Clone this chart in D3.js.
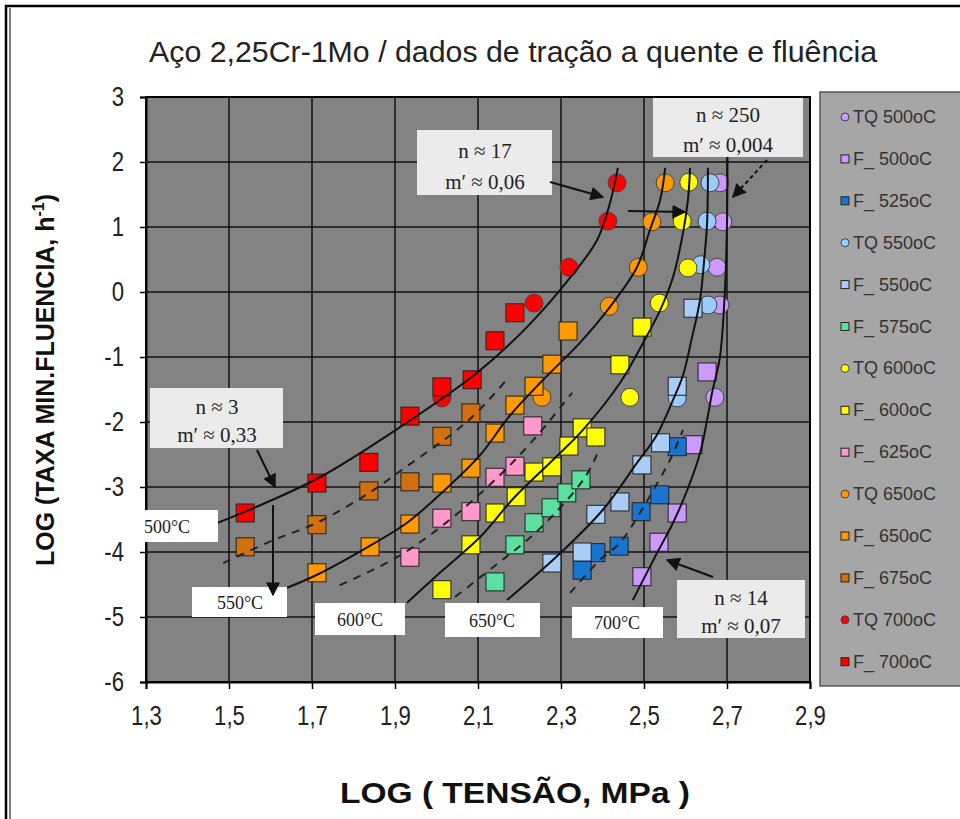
<!DOCTYPE html>
<html><head><meta charset="utf-8">
<script src="https://cdn.jsdelivr.net/npm/d3@7"></script>
<style>body{margin:0;background:#fff}</style>
</head><body>
<script>
// ---------- data (log stress, log min. creep rate) ----------
const seriesNames = ["TQ 500oC","F_ 500oC","F_ 525oC","TQ 550oC","F_ 550oC","F_ 575oC","TQ 600oC",
                     "F_ 600oC","F_ 625oC","TQ 650oC","F_ 650oC","F_ 675oC","TQ 700oC","F_ 700oC"];
const seriesShapes = ["circle","square","square","circle","square","square","circle",
                      "square","square","circle","square","square","circle","square"];
const seriesColors = ["#CC99FF","#CC99FF","#1874CD","#99CCFF","#A9CDF5","#5CE0A0","#FFFF00",
                      "#FFFF00","#FF99CC","#FF9900","#FF9900","#D0700E","#FF0000","#FF0000"];

const tq500 = [[2.683,1.68],[2.690,1.08],[2.676,0.38],[2.683,-0.20],[2.671,-1.62]];
const f500  = [[2.652,-1.23],[2.618,-2.35],[2.580,-3.40],[2.536,-3.85],[2.495,-4.38]];
const f525  = [[2.580,-2.38],[2.538,-3.12],[2.493,-3.38],[2.440,-3.91],[2.384,-4.01],[2.351,-4.28]];
const tq550 = [[2.659,1.68],[2.652,1.09],[2.637,0.42],[2.654,-0.20],[2.580,-1.63]];
const f550  = [[2.278,-4.17],[2.351,-4.00],[2.384,-3.42],[2.442,-3.23],[2.495,-2.66],[2.540,-2.32],[2.580,-1.45],[2.618,-0.25]];
const f575  = [[2.141,-4.46],[2.189,-3.89],[2.235,-3.55],[2.276,-3.32],[2.314,-3.09],[2.348,-2.89]];
const tq600 = [[2.608,1.69],[2.592,1.09],[2.606,0.37],[2.537,-0.17],[2.466,-1.62]];
const f600  = [[2.013,-4.58],[2.083,-3.89],[2.141,-3.40],[2.192,-3.15],[2.235,-2.77],[2.278,-2.69],
               [2.319,-2.37],[2.351,-2.09],[2.384,-2.23],[2.442,-1.12],[2.495,-0.54]];
const f625  = [[1.936,-4.08],[2.013,-3.48],[2.083,-3.38],[2.141,-2.85],[2.189,-2.68],[2.232,-2.06]];
const tq650 = [[2.551,1.68],[2.519,1.08],[2.486,0.38],[2.416,-0.22],[2.254,-1.62]];
const f650  = [[1.712,-4.32],[1.840,-3.92],[1.936,-3.57],[2.013,-2.94],[2.083,-2.71],[2.141,-2.17],
               [2.189,-1.74],[2.235,-1.45],[2.278,-1.11],[2.317,-0.60]];
const f675  = [[1.539,-3.92],[1.712,-3.58],[1.837,-3.06],[1.936,-2.92],[2.013,-2.22],[2.083,-1.86]];
const tq700 = [[2.435,1.68],[2.413,1.09],[2.319,0.38],[2.235,-0.17],[2.013,-1.63]];
const f700  = [[1.539,-3.40],[1.712,-2.94],[1.837,-2.62],[1.936,-1.91],[2.013,-1.46],[2.086,-1.35],
               [2.141,-0.75],[2.189,-0.32]];
const seriesData = [tq500,f500,f525,tq550,f550,f575,tq600,f600,f625,tq650,f650,f675,tq700,f700];

// fitted trend curves
const curve500 = [[1.473,-3.55],[1.539,-3.38],[1.719,-2.85],[1.912,-2.08],[2.100,-1.23],[2.218,-0.54],[2.322,0.22],[2.387,0.80],[2.418,1.37],[2.437,1.91]];
const curve550 = [[1.640,-4.55],[1.712,-4.35],[1.835,-3.92],[1.929,-3.55],[2.033,-2.97],[2.105,-2.51],[2.177,-1.90],[2.257,-1.35],[2.346,-0.78],[2.418,-0.23],[2.483,0.38],[2.514,0.95],[2.539,1.42],[2.551,1.91]];
const curve600 = [[1.929,-4.78],[2.008,-4.32],[2.105,-3.77],[2.189,-3.15],[2.281,-2.58],[2.353,-2.12],[2.442,-1.40],[2.498,-0.78],[2.539,-0.28],[2.570,0.23],[2.594,0.91],[2.606,1.42],[2.611,1.91]];
const curve650 = [[2.170,-4.74],[2.298,-4.02],[2.401,-3.35],[2.483,-2.63],[2.531,-2.20],[2.570,-1.66],[2.594,-1.28],[2.616,-0.69],[2.635,-0.12],[2.645,0.49],[2.652,1.06],[2.654,1.91]];
const curve700 = [[2.473,-4.74],[2.531,-4.02],[2.570,-3.55],[2.604,-3.05],[2.635,-2.48],[2.652,-1.97],[2.664,-1.55],[2.683,-1.00],[2.695,0.03],[2.700,1.06],[2.701,2.09]];
const dash525 = [[1.486,-4.17],[1.606,-3.82],[1.712,-3.55],[1.833,-3.11],[1.929,-2.68],[2.040,-2.17],[2.098,-1.85],[2.165,-1.38]];
const dash575 = [[1.767,-4.51],[1.905,-4.08],[2.025,-3.54],[2.146,-2.86],[2.233,-2.28],[2.327,-1.55]];
const dash625 = [[2.045,-4.69],[2.153,-4.15],[2.218,-3.82],[2.286,-3.40],[2.358,-2.85],[2.394,-2.40]];
const dash675 = [[2.322,-4.63],[2.394,-4.12],[2.442,-3.86],[2.490,-3.40],[2.534,-2.92],[2.563,-2.58],[2.594,-2.12]];
const solidCurves = [curve500,curve550,curve600,curve650,curve700];
const dashedCurves = [dash525,dash575,dash625,dash675];

const xTicks = [1.3,1.5,1.7,1.9,2.1,2.3,2.5,2.7,2.9];
const yTicks = [3,2,1,0,-1,-2,-3,-4,-5,-6];

// ---------- layout ----------
const W = 960, H = 819;
const P = {l:146, r:810, t:97, b:682};
const svg = d3.select("body").append("svg").attr("width",W).attr("height",H);
const x = d3.scaleLinear().domain([1.3,2.9]).range([P.l,P.r]);
const y = d3.scaleLinear().domain([-6,3]).range([P.b,P.t]);
const sans = "Liberation Sans, Arial, sans-serif";

function condense(sel,k){
  sel.each(function(){
    const w = this.getComputedTextLength();
    this.setAttribute("textLength", w*k);
    this.setAttribute("lengthAdjust","spacingAndGlyphs");
  });
}

svg.append("rect").attr("width",W).attr("height",H).attr("fill","#fff");
// outer frame
svg.append("rect").attr("x",6).attr("y",6).attr("width",W+20).attr("height",H+20)
  .attr("fill","none").attr("stroke","#000").attr("stroke-width",2.5);
svg.append("line").attr("x1",10).attr("x2",10).attr("y1",8).attr("y2",H)
  .attr("stroke","#000").attr("stroke-width",1);

// title
svg.append("text").attr("x",513).attr("y",62).attr("text-anchor","middle")
  .attr("font-family",sans).attr("font-size",29).attr("fill","#222")
  .attr("textLength",728).attr("lengthAdjust","spacingAndGlyphs")
  .text("Aço 2,25Cr-1Mo / dados de tração a quente e fluência");

// plot area
svg.append("rect").attr("x",P.l).attr("y",P.t).attr("width",P.r-P.l).attr("height",P.b-P.t)
  .attr("fill","#838383");

// grid
const grid = svg.append("g").attr("stroke","#111").attr("stroke-width",1.5);
grid.selectAll("line.v").data(xTicks).join("line").attr("class","v")
  .attr("x1",d=>x(d)).attr("x2",d=>x(d)).attr("y1",P.t).attr("y2",P.b);
grid.selectAll("line.h").data(yTicks).join("line").attr("class","h")
  .attr("y1",d=>y(d)).attr("y2",d=>y(d)).attr("x1",P.l).attr("x2",P.r);

// axes
const fmt = d => (Math.round(d*10)/10).toString().replace(".",",");
const gx = svg.append("g").attr("transform",`translate(0,${P.b})`)
  .call(d3.axisBottom(x).tickValues(xTicks).tickFormat(fmt).tickSize(7).tickPadding(17));
const gy = svg.append("g").attr("transform",`translate(${P.l},0)`)
  .call(d3.axisLeft(y).tickValues(yTicks).tickFormat(d=>String(d)).tickSize(6).tickPadding(16));
[gx,gy].forEach(g=>{
  g.select(".domain").attr("stroke","#000").attr("stroke-width",2);
  g.selectAll(".tick line").attr("stroke","#000").attr("stroke-width",1.5);
  g.selectAll(".tick text").attr("font-family",sans)
    .attr("font-size",27).attr("fill","#222").call(condense,0.82);
});
svg.append("rect").attr("x",P.l).attr("y",P.t).attr("width",P.r-P.l).attr("height",P.b-P.t)
  .attr("fill","none").attr("stroke","#000").attr("stroke-width",2);

// axis titles
svg.append("text").attr("x",515).attr("y",803).attr("text-anchor","middle")
  .attr("font-family",sans).attr("font-weight","bold")
  .attr("font-size",30).attr("fill","#111").attr("textLength",350).attr("lengthAdjust","spacingAndGlyphs")
  .text("LOG ( TENSÃO, MPa  )");
const yt = svg.append("text").attr("transform","translate(54,380) rotate(-90)").attr("text-anchor","middle")
  .attr("font-family",sans).attr("font-weight","bold")
  .attr("font-size",25).attr("fill","#111").attr("textLength",372).attr("lengthAdjust","spacingAndGlyphs");
yt.append("tspan").text("LOG (TAXA MIN.FLUENCIA, h");
yt.append("tspan").attr("font-size",16).attr("dy",-10).text("-1");
yt.append("tspan").attr("dy",10).text(")");

// markers
const plot = svg.append("g");
seriesData.forEach((data,i)=>{
  const g = plot.append("g");
  if (seriesShapes[i]==="circle") {
    g.selectAll("circle").data(data).join("circle")
      .attr("cx",d=>x(d[0])).attr("cy",d=>y(d[1])).attr("r",9)
      .attr("fill",seriesColors[i]).attr("stroke","#444").attr("stroke-width",1);
  } else {
    const s = 18;
    g.selectAll("rect").data(data).join("rect")
      .attr("x",d=>x(d[0])-s/2).attr("y",d=>y(d[1])-s/2).attr("width",s).attr("height",s)
      .attr("fill",seriesColors[i]).attr("stroke","#222").attr("stroke-width",1);
  }
});

// trend curves
const line = d3.line().x(d=>x(d[0])).y(d=>y(d[1])).curve(d3.curveCatmullRom.alpha(0.5));
plot.selectAll("path.solid").data(solidCurves).join("path").attr("class","solid")
  .attr("d",line).attr("fill","none").attr("stroke","#111").attr("stroke-width",2);
plot.selectAll("path.dash").data(dashedCurves).join("path").attr("class","dash")
  .attr("d",line).attr("fill","none").attr("stroke","#222").attr("stroke-width",2)
  .attr("stroke-dasharray","8,7");

// arrowhead
svg.append("defs").append("marker").attr("id","ah").attr("viewBox","0 0 10 10")
  .attr("refX",9).attr("refY",5).attr("markerWidth",14).attr("markerHeight",14)
  .attr("markerUnits","userSpaceOnUse").attr("orient","auto")
  .append("path").attr("d","M0,0 L10,5 L0,10 z").attr("fill","#111");

// annotation boxes
const ann = svg.append("g");
const serif = "Liberation Serif, Times New Roman, serif";
function infoBox(bx,by,bw,bh,lines,fill,fs){
  ann.append("rect").attr("x",bx).attr("y",by).attr("width",bw).attr("height",bh).attr("fill",fill);
  lines.forEach(l=>{
    ann.append("text").attr("x",l[0]).attr("y",l[1]).attr("text-anchor","middle")
      .attr("font-family",serif).attr("font-size",fs).attr("fill","#222").text(l[2]);
  });
}
function arrow(x1,y1,x2,y2,dashed){
  const a = ann.append("line").attr("x1",x1).attr("y1",y1).attr("x2",x2).attr("y2",y2)
    .attr("stroke","#111").attr("stroke-width",2).attr("marker-end","url(#ah)");
  if (dashed) a.attr("stroke-dasharray","4,3");
}
infoBox(653,98,150,59,[[728,122,"n ≈ 250"],[728,152,"m′ ≈ 0,004"]],"#ebebeb",21);
infoBox(417,130,135,65,[[485,158,"n ≈ 17"],[485,189,"m′ ≈ 0,06"]],"#ebebeb",21);
infoBox(150,388,133,60,[[217,414,"n ≈ 3"],[217,442,"m′ ≈ 0,33"]],"#ebebeb",21);
infoBox(677,580,128,58,[[741,605,"n ≈ 14"],[741,633,"m′ ≈ 0,07"]],"#ebebeb",21);
infoBox(125,510,93,32,[[167,533,"500°C"]],"#fff",18);
infoBox(192,587,95,30,[[240,609,"550°C"]],"#fff",18);
infoBox(315,603,90,32,[[360,626,"600°C"]],"#fff",18);
infoBox(445,603,95,34,[[492,627,"650°C"]],"#fff",18);
infoBox(572,607,91,31,[[617,629,"700°C"]],"#fff",18);
arrow(550,182,603,197);
arrow(628,211,685,212);
arrow(767,160,733,197,true);
arrow(257,450,275,487);
arrow(273,505,273,595);
arrow(713,577,667,560);

// legend
const L = svg.append("g");
L.append("rect").attr("x",820).attr("y",92).attr("width",160).attr("height",594)
  .attr("fill","#a6a6a6").attr("stroke","#555").attr("stroke-width",1.5);
seriesNames.forEach((name,i)=>{
  const cy = 117 + i*41.9;
  if (seriesShapes[i]==="circle") {
    L.append("circle").attr("cx",845).attr("cy",cy).attr("r",4)
      .attr("fill",seriesColors[i]).attr("stroke","#444").attr("stroke-width",1);
  } else {
    L.append("rect").attr("x",841).attr("y",cy-4).attr("width",8).attr("height",8)
      .attr("fill",seriesColors[i]).attr("stroke","#222").attr("stroke-width",1);
  }
  L.append("text").attr("x",853).attr("y",cy+6).attr("font-family",sans)
    .attr("font-size",18).attr("fill","#333").text(name);
});
</script>
</body></html>
